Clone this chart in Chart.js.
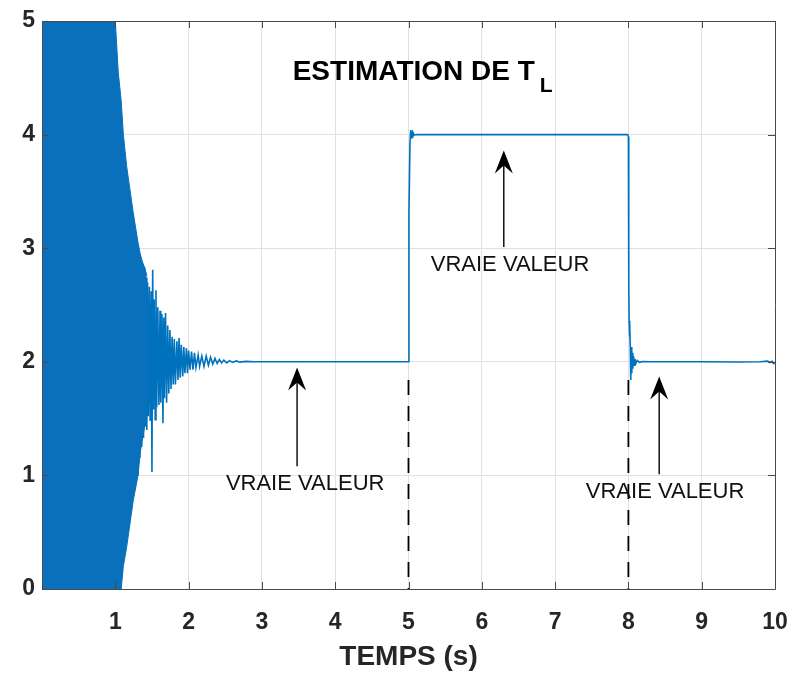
<!DOCTYPE html>
<html>
<head>
<meta charset="utf-8">
<script src="https://cdn.jsdelivr.net/npm/chart.js@4.4.1/dist/chart.umd.min.js"></script>
<style>
  html, body { margin: 0; padding: 0; background: #fff; }
  canvas { display: block; }
</style>
</head>
<body>
<canvas id="myChart" width="796" height="678"></canvas>
<script>
// envelope of the dense start-up oscillation
let envT    = [0, 0.995, 1.0, 1.04, 1.08, 1.11, 1.155, 1.245, 1.31, 1.34, 1.37, 1.40, 1.43];
let envHigh = [5.6, 5.6, 5.0, 4.55, 4.3, 4.0, 3.72, 3.31, 3.05, 2.95, 2.88, 2.83, 2.76];
let envLow  = [-0.6, -0.6, -0.6, -0.6, 0.0, 0.2, 0.37, 0.78, 1.0, 1.2, 1.32, 1.43, 1.5];

// estimated T_L after the envelope, time (s) and value
let tlT = [1.30, 1.31, 1.325, 1.335, 1.35, 1.36, 1.375, 1.385, 1.40, 1.41,
  1.42, 1.43, 1.44, 1.45, 1.465, 1.475, 1.49, 1.50, 1.51, 1.52,
  1.53, 1.545, 1.555, 1.565, 1.58, 1.595, 1.61, 1.62, 1.635, 1.65,
  1.66, 1.67, 1.685, 1.70, 1.715, 1.73, 1.745, 1.76, 1.775, 1.79,
  1.805, 1.82, 1.84, 1.855, 1.87, 1.885, 1.90, 1.92, 1.935, 1.95,
  1.97, 1.985, 2.00, 2.02, 2.04, 2.06, 2.08, 2.10, 2.13, 2.15,
  2.18, 2.21, 2.24, 2.27, 2.30, 2.33, 2.36, 2.39, 2.42, 2.45,
  2.48, 2.52, 2.56, 2.60, 2.65, 2.70, 2.78, 2.90, 4.99, 5.0,
  5.006, 5.02, 5.03, 5.036, 5.043, 5.05, 5.06, 5.08, 5.11, 7.99,
  8.0, 8.005, 8.01, 8.015, 8.02, 8.026, 8.032, 8.04, 8.046, 8.053,
  8.06, 8.07, 8.08, 8.09, 8.10, 8.12, 8.15, 8.20, 8.30, 9.00,
  9.50, 9.80, 9.90, 9.93, 9.96, 9.98, 10.0];
let tlV = [3.02, 1.00, 2.95, 1.15, 2.88, 1.25, 2.86, 1.33, 2.83, 1.43,
  2.74, 1.40, 2.70, 1.52, 2.66, 1.48, 2.62, 1.03, 2.81, 1.58,
  2.55, 1.49, 2.63, 1.60, 2.48, 1.62, 2.45, 1.64, 2.42, 1.46,
  2.39, 1.68, 2.43, 1.64, 2.32, 1.72, 2.28, 1.76, 2.22, 1.80,
  2.20, 1.80, 2.18, 1.84, 2.21, 1.86, 2.15, 1.87, 2.13, 1.90,
  2.12, 1.90, 2.10, 1.93, 2.09, 1.93, 2.08, 1.95, 2.06, 1.96,
  2.05, 1.96, 2.05, 1.97, 2.04, 1.98, 2.03, 1.985, 2.02, 1.99,
  2.015, 1.99, 2.01, 1.995, 2.008, 1.997, 2.004, 2.0, 2.0, 2.0,
  3.3, 3.92, 4.04, 3.97, 4.03, 3.98, 4.02, 3.995, 4.0, 4.0,
  3.98, 2.7, 2.36, 2.22, 2.34, 2.12, 1.84, 2.13, 1.90, 2.08,
  1.94, 2.05, 1.97, 2.025, 1.985, 2.012, 1.995, 2.003, 2.0, 2.0,
  1.998, 2.0, 2.006, 1.994, 2.005, 1.985, 1.995];

// dashed markers at the load changes
let dashT = [5, 8];
let dashTop = 1.84;

let xTicks = [1, 2, 3, 4, 5, 6, 7, 8, 9, 10];
let yTicks = [0, 1, 2, 3, 4, 5];

let arrows = [
  { x: 3.48, from: 1.08, to: 1.95 },
  { x: 6.30, from: 3.01, to: 3.86 },
  { x: 8.42, from: 1.01, to: 1.87 }
];
let notes = [
  { x: 3.59, y: 0.87 },
  { x: 6.385, y: 2.80 },
  { x: 8.50, y: 0.80 }
];

const FONT = '"Liberation Sans", Arial, Helvetica, sans-serif';
const BLUE = '#0072BD';

let pts = (ts, vs) => ts.map((t, i) => ({ x: t, y: vs[i] }));

const framePlugin = {
  id: 'frame',
  afterDatasetsDraw(chart) {
    const { ctx, chartArea: a, scales: { x, y } } = chart;
    ctx.save();
    ctx.strokeStyle = '#4a4a4a';
    ctx.lineWidth = 1;
    ctx.beginPath();
    ctx.rect(Math.round(a.left) + 0.5, Math.round(a.top) + 0.5,
      Math.round(a.right - a.left), Math.round(a.bottom - a.top));
    xTicks.forEach((v) => {
      const px = Math.round(x.getPixelForValue(v)) + 0.5;
      ctx.moveTo(px, a.bottom); ctx.lineTo(px, a.bottom - 7);
      ctx.moveTo(px, a.top); ctx.lineTo(px, a.top + 7);
    });
    yTicks.forEach((v) => {
      const py = Math.round(y.getPixelForValue(v)) + 0.5;
      ctx.moveTo(a.left, py); ctx.lineTo(a.left + 7, py);
      ctx.moveTo(a.right, py); ctx.lineTo(a.right - 7, py);
    });
    ctx.stroke();
    ctx.restore();
  }
};

const notesPlugin = {
  id: 'notes',
  afterDraw(chart) {
    const { ctx, scales: { x, y } } = chart;
    ctx.save();
    // arrows
    arrows.forEach((ar) => {
      const px = x.getPixelForValue(ar.x);
      const yb = y.getPixelForValue(ar.from);
      const yt = y.getPixelForValue(ar.to);
      ctx.strokeStyle = '#000';
      ctx.lineWidth = 1.4;
      ctx.beginPath();
      ctx.moveTo(px, yb);
      ctx.lineTo(px, yt + 14);
      ctx.stroke();
      ctx.fillStyle = '#000';
      ctx.beginPath();
      ctx.moveTo(px, yt);
      ctx.lineTo(px - 9, yt + 23);
      ctx.lineTo(px, yt + 15);
      ctx.lineTo(px + 9, yt + 23);
      ctx.closePath();
      ctx.fill();
    });
    // labels
    ctx.fillStyle = '#111';
    ctx.font = '22px ' + FONT;
    ctx.textAlign = 'center';
    ctx.textBaseline = 'alphabetic';
    notes.forEach((n) => {
      ctx.fillText('VRAIE VALEUR', x.getPixelForValue(n.x), y.getPixelForValue(n.y));
    });
    // title inside the axes
    const tx = x.getPixelForValue(3.42);
    const ty = y.getPixelForValue(4.48);
    ctx.textAlign = 'left';
    ctx.fillStyle = '#000';
    ctx.font = 'bold 28px ' + FONT;
    const main = 'ESTIMATION DE T';
    ctx.fillText(main, tx, ty);
    const w = ctx.measureText(main).width;
    ctx.font = 'bold 21px ' + FONT;
    ctx.fillText('L', tx + w + 5, ty + 12);
    ctx.restore();
  }
};

onWindowLoad = () => {
  let ctx = document.getElementById('myChart').getContext('2d');
  let datasets = [
    {
      data: pts(envT, envHigh),
      borderColor: BLUE,
      borderWidth: 1,
      fill: false
    },
    {
      data: pts(envT, envLow),
      borderColor: BLUE,
      borderWidth: 1,
      backgroundColor: '#0a70bc',
      fill: '-1'
    },
    {
      data: pts(tlT, tlV),
      borderColor: BLUE,
      borderWidth: 1.6,
      fill: false
    }
  ];
  dashT.forEach((t) => {
    datasets.push({
      data: [{ x: t, y: dashTop }, { x: t, y: 0 }],
      borderColor: '#000',
      borderWidth: 1.8,
      borderDash: [15, 11],
      fill: false
    });
  });

  let myChart = new Chart(ctx, {
    type: 'line',
    data: { datasets: datasets },
    options: {
      responsive: false,
      animation: false,
      devicePixelRatio: 1,
      layout: { padding: { top: 21, right: 21, left: 0, bottom: 0 } },
      elements: { point: { radius: 0 }, line: { tension: 0 } },
      plugins: {
        legend: { display: false },
        tooltip: { enabled: false }
      },
      scales: {
        x: {
          type: 'linear',
          min: 0,
          max: 10,
          afterBuildTicks: (scale) => { scale.ticks = xTicks.map((v) => ({ value: v })); },
          afterFit: (scale) => {
            scale.height = 89;
            scale.paddingLeft = 0;
            scale.paddingRight = 0;
          },
          grid: { color: '#e1e1e1', drawTicks: false },
          border: { display: false },
          ticks: {
            padding: 20,
            maxRotation: 0,
            autoSkip: false,
            color: '#262626',
            font: { family: FONT, size: 23, weight: 'bold' }
          },
          title: {
            display: true,
            text: 'TEMPS (s)',
            color: '#262626',
            padding: { top: 6, bottom: 4 },
            font: { family: FONT, size: 28, weight: 'bold' }
          }
        },
        y: {
          min: 0,
          max: 5,
          afterBuildTicks: (scale) => { scale.ticks = yTicks.map((v) => ({ value: v })); },
          afterFit: (scale) => { scale.width = 42; },
          grid: { color: '#e1e1e1', drawTicks: false },
          border: { display: false },
          ticks: {
            padding: 7,
            color: '#262626',
            font: { family: FONT, size: 23, weight: 'bold' }
          }
        }
      }
    },
    plugins: [framePlugin, notesPlugin]
  });
};

window.onload = onWindowLoad;
</script>
</body>
</html>
